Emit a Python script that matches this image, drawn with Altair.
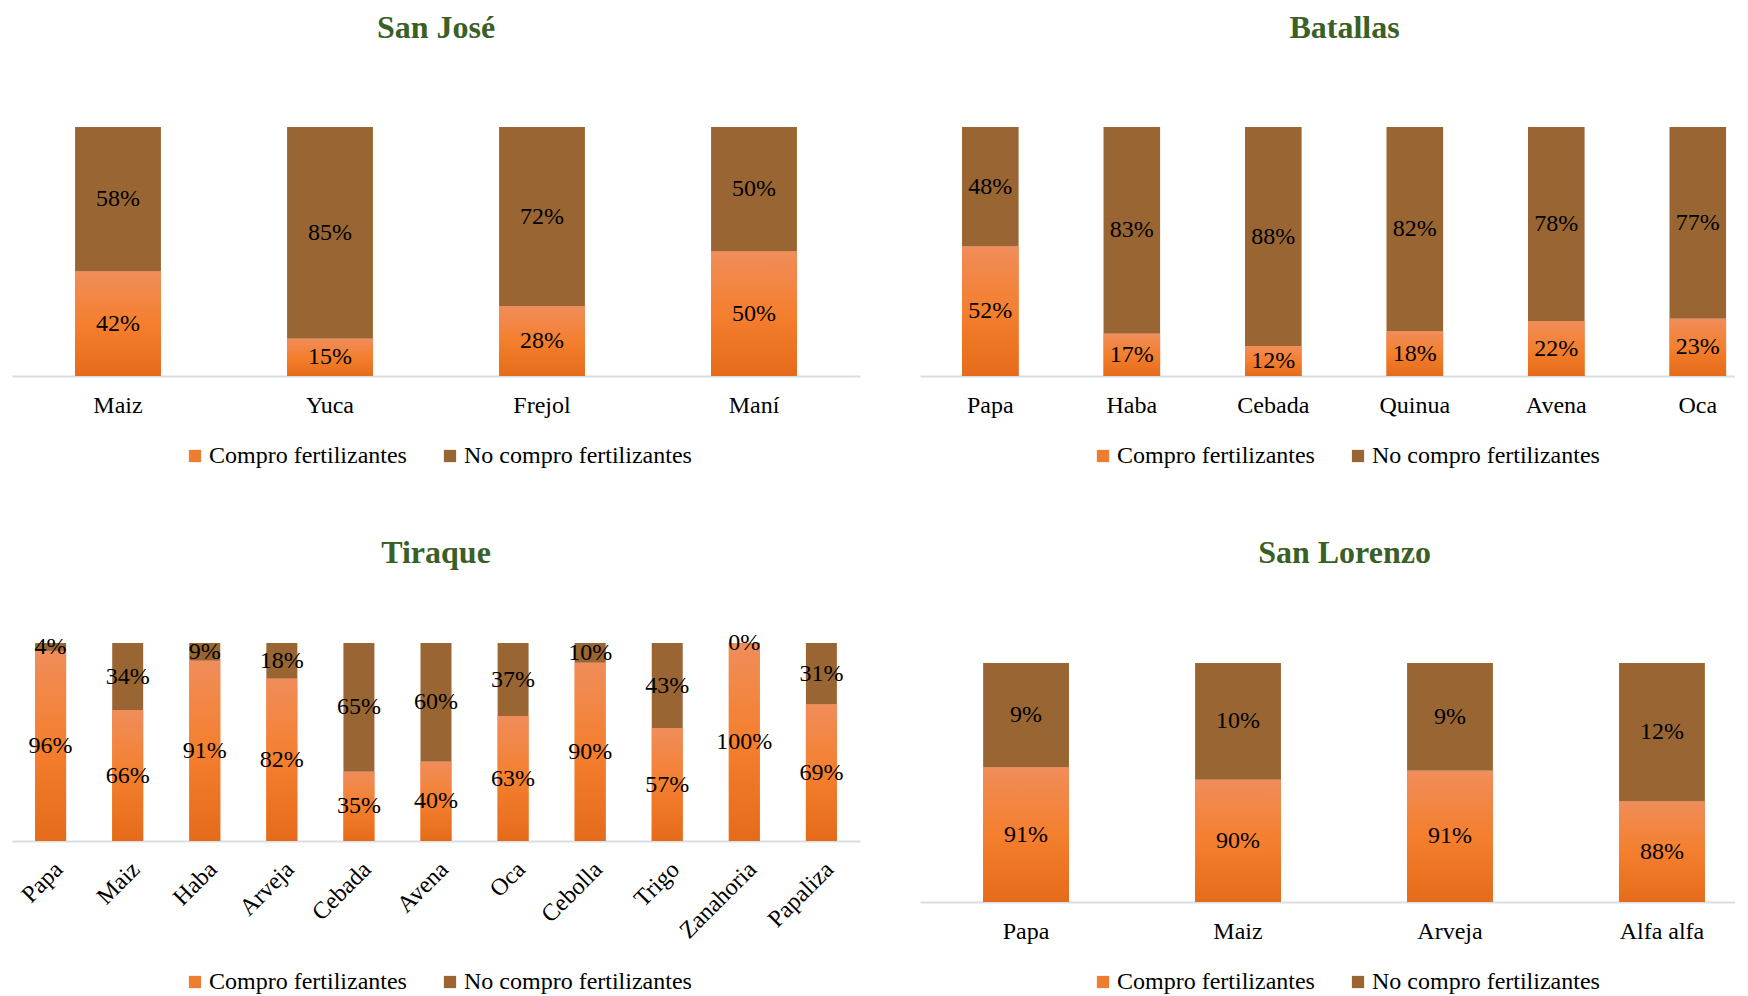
import altair as alt
import pandas as pd

SERIES = ["Compro fertilizantes", "No compro fertilizantes"]
NARANJA = "#ED7D31"
CAFE = "#996633"
VERDE = "#3A5F27"
FUENTE = "Liberation Serif"

# San José
sj_cultivos = ["Maiz", "Yuca", "Frejol", "Maní"]
sj_compro = [42, 15, 28, 50]
sj_no_compro = [58, 85, 72, 50]

# Batallas
bt_cultivos = ["Papa", "Haba", "Cebada", "Quinua", "Avena", "Oca"]
bt_compro = [52, 17, 12, 18, 22, 23]
bt_no_compro = [48, 83, 88, 82, 78, 77]

# Tiraque
ti_cultivos = ["Papa", "Maiz", "Haba", "Arveja", "Cebada", "Avena", "Oca",
               "Cebolla", "Trigo", "Zanahoria", "Papaliza"]
ti_compro = [96, 66, 91, 82, 35, 40, 63, 90, 57, 100, 69]
ti_no_compro = [4, 34, 9, 18, 65, 60, 37, 10, 43, 0, 31]

# San Lorenzo: printed labels and drawn bar heights (they differ in the original)
sl_cultivos = ["Papa", "Maiz", "Arveja", "Alfa alfa"]
sl_compro = [91, 90, 91, 88]
sl_no_compro = [9, 10, 9, 12]
sl_altura_compro = [56.4, 51.1, 54.9, 42.1]
sl_altura_no_compro = [43.6, 48.9, 45.1, 57.9]

GRAD = alt.Gradient(
    gradient="linear",
    stops=[
        alt.GradientStop(color="#F08D5A", offset=0),
        alt.GradientStop(color="#F47F2E", offset=0.5),
        alt.GradientStop(color="#E56B1A", offset=1),
    ],
    x1=0, x2=0, y1=0, y2=1,
)


def tabla(cultivos, compro, no_compro, alt_compro=None, alt_no=None):
    alt_compro = alt_compro or compro
    alt_no = alt_no or no_compro
    filas = []
    for i, c in enumerate(cultivos):
        filas.append(dict(cultivo=c, serie=SERIES[0], orden=0,
                          valor=alt_compro[i] / 100, etiqueta=f"{compro[i]}%"))
        filas.append(dict(cultivo=c, serie=SERIES[1], orden=1,
                          valor=alt_no[i] / 100, etiqueta=f"{no_compro[i]}%"))
    return pd.DataFrame(filas)


def panel(titulo, df, cultivos, ancho, alto, ymax, p_in, p_out, alinear,
          t_offset, t_dx, ley_x, ley_y, angulo=0, lab_pad=17):
    xscale = alt.Scale(paddingInner=p_in, paddingOuter=p_out, align=alinear)
    yscale = alt.Scale(domain=[0, ymax], nice=False, zero=True)
    eje = alt.Axis(title=None, ticks=False, domainColor="#D9DEE5", domainWidth=2,
                   labelFont=FUENTE, labelFontSize=24, labelColor="black",
                   labelPadding=lab_pad, labelAngle=angulo, grid=False,
                   labelOverlap=False)
    x = alt.X("cultivo:N", sort=cultivos, scale=xscale, axis=eje)
    base = alt.Chart(df)
    barras = base.mark_bar().encode(
        x=x,
        y=alt.Y("valor:Q", stack="zero", scale=yscale, axis=None),
        color=alt.Color(
            "serie:N",
            scale=alt.Scale(domain=SERIES, range=[NARANJA, CAFE]),
            legend=alt.Legend(title=None, orient="none", legendX=ley_x, legendY=ley_y,
                              direction="horizontal", symbolType="square",
                              symbolSize=150, symbolStrokeWidth=0,
                              labelFont=FUENTE, labelFontSize=24, labelColor="black",
                              labelLimit=500, columnPadding=31, labelOffset=2),
        ),
        order=alt.Order("orden:Q"),
    )
    degradado = base.transform_filter(alt.datum.orden == 0).mark_bar(fill=GRAD).encode(
        x=x,
        y=alt.Y("valor:Q", stack=None, scale=yscale, axis=None),
    )
    textos = base.transform_stack(
        stack="valor", as_=["v0", "v1"], groupby=["cultivo"],
        sort=[alt.SortField("orden", order="ascending")],
    ).transform_calculate(
        mid="(datum.v0 + datum.v1) / 2"
    ).mark_text(font=FUENTE, fontSize=24, color="black", baseline="middle",
                align="center").encode(
        x=x,
        y=alt.Y("mid:Q", scale=yscale, axis=None),
        text="etiqueta:N",
    )
    return alt.layer(barras, degradado, textos).properties(
        width=ancho, height=alto,
        title=alt.TitleParams(text=titulo, font=FUENTE, fontSize=32, fontWeight="bold",
                              color=VERDE, anchor="middle", offset=t_offset, dx=t_dx),
    )


sj = panel("San José", tabla(sj_cultivos, sj_compro, sj_no_compro), sj_cultivos,
           848, 249, 1.0, 0.595, 0.2975, 0.5, 82, 0, 171, 317)
bt = panel("Batallas", tabla(bt_cultivos, bt_compro, bt_no_compro), bt_cultivos,
           815, 249, 1.0, 0.6, 0.18, 0.825, 82, 17, 171, 317)
ti = panel("Tiraque", tabla(ti_cultivos, ti_compro, ti_no_compro), ti_cultivos,
           848, 198, 1.0, 0.598, 0.3, 0.5, 61, 0, 171, 327, angulo=-45, lab_pad=16)
sl = panel("San Lorenzo",
           tabla(sl_cultivos, sl_compro, sl_no_compro, sl_altura_compro, sl_altura_no_compro),
           sl_cultivos, 815, 259, 259 / 239, 0.595, 0.22, 0.677, 73, 17, 171, 327)

chart = alt.concat(
    sj, bt, ti, sl, columns=2, spacing={"row": 267, "column": 60}, bounds="flush"
).resolve_scale(
    x="independent", y="independent", color="independent"
).resolve_legend(
    color="independent"
).properties(
    padding={"left": 4, "top": 4, "right": 0, "bottom": 0},
    background="white",
).configure_view(stroke=None)

chart.save("out.html", embed_options={"renderer": "svg", "actions": False})
